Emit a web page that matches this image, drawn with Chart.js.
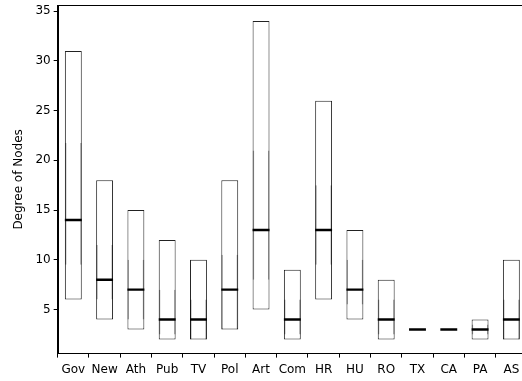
<!DOCTYPE html>
<html>
<head>
<meta charset="utf-8">
<script src="https://cdn.jsdelivr.net/npm/chart.js@4"></script>
<style>
  html, body { margin: 0; padding: 0; background: #fff; overflow: hidden; }
  #wrap { position: relative; top: -5px; width: 527px; height: 397px; }
</style>
</head>
<body>
<div id="wrap"><canvas id="chart"></canvas></div>
<script>
const categories = ['Gov', 'New', 'Ath', 'Pub', 'TV', 'Pol', 'Art', 'Com', 'HR', 'HU', 'RO', 'TX', 'CA', 'PA', 'AS'];
const minVals    = [6, 4, 3, 2, 2, 3, 5, 2, 6, 4, 2, 3, 3, 2, 2];
const q1Vals     = [9.5, 6, 4, 2.5, 2, 3, 8, 2.5, 9.5, 5.5, 2.5, 3, 3, 2.5, 2];
const medianVals = [14, 8, 7, 4, 4, 7, 13, 4, 13, 7, 4, 3, 3, 3, 4];
const q3Vals     = [21.75, 11.5, 10, 7, 6, 10.5, 21, 6, 17.5, 10, 6, 3, 3, 3.5, 6];
const maxVals    = [31, 18, 15, 12, 10, 18, 34, 9, 26, 13, 8, 3, 3, 4, 10];
const yTicks     = [5, 10, 15, 20, 25, 30, 35];

const frame = {
  id: 'frame',
  afterDraw(chart) {
    const { ctx, chartArea: a } = chart;
    ctx.save();
    ctx.strokeStyle = '#000';
    ctx.lineWidth = 1;
    ctx.strokeRect(Math.round(a.left) + 0.5, Math.round(a.top) + 0.5,
                   Math.round(a.right - a.left), Math.round(a.bottom - a.top));
    ctx.restore();
  }
};

const barOpts = { grouped: false, categoryPercentage: 1, barPercentage: 0.54 };
const font = { family: 'DejaVu Sans', size: 12 };

new Chart(document.getElementById('chart'), {
  type: 'bar',
  data: {
    labels: categories,
    datasets: [
      {
        ...barOpts,
        label: 'range',
        order: 3,
        data: minVals.map((v, i) => [v, maxVals[i]]),
        backgroundColor: '#fff',
        borderColor: '#222',
        borderWidth: 1,
        borderSkipped: false
      },
      {
        ...barOpts,
        label: 'iqr',
        order: 2,
        data: q1Vals.map((v, i) => [v, q3Vals[i]]),
        backgroundColor: 'rgba(0,0,0,0)',
        borderColor: 'rgba(0,0,0,0.35)',
        borderWidth: { left: 1.5, right: 1.5, top: 0, bottom: 0 },
        borderSkipped: false
      },
      {
        ...barOpts,
        label: 'median',
        order: 1,
        data: medianVals.map(v => [v - 0.12, v + 0.12]),
        backgroundColor: '#000',
        borderWidth: 0
      }
    ]
  },
  options: {
    responsive: true,
    maintainAspectRatio: false,
    animation: false,
    layout: { padding: { top: 0, right: 0, left: 6, bottom: 10 } },
    plugins: { legend: { display: false }, tooltip: { enabled: false } },
    scales: {
      x: {
        grid: { display: true, drawOnChartArea: false, drawTicks: true, tickLength: 4, color: '#000' },
        border: { display: true, color: '#000' },
        ticks: { color: '#000', font, padding: 5, maxRotation: 0, autoSkip: false }
      },
      y: {
        min: 0.57,
        max: 35.6,
        afterBuildTicks: axis => { axis.ticks = yTicks.map(v => ({ value: v })); },
        grid: { display: true, drawOnChartArea: false, drawTicks: true, tickLength: 4, color: '#000' },
        border: { display: true, color: '#000' },
        ticks: { color: '#000', font, padding: 3 },
        title: { display: true, text: 'Degree of Nodes', color: '#000', font, padding: 6 }
      }
    }
  },
  plugins: [frame]
});
</script>
</body>
</html>
